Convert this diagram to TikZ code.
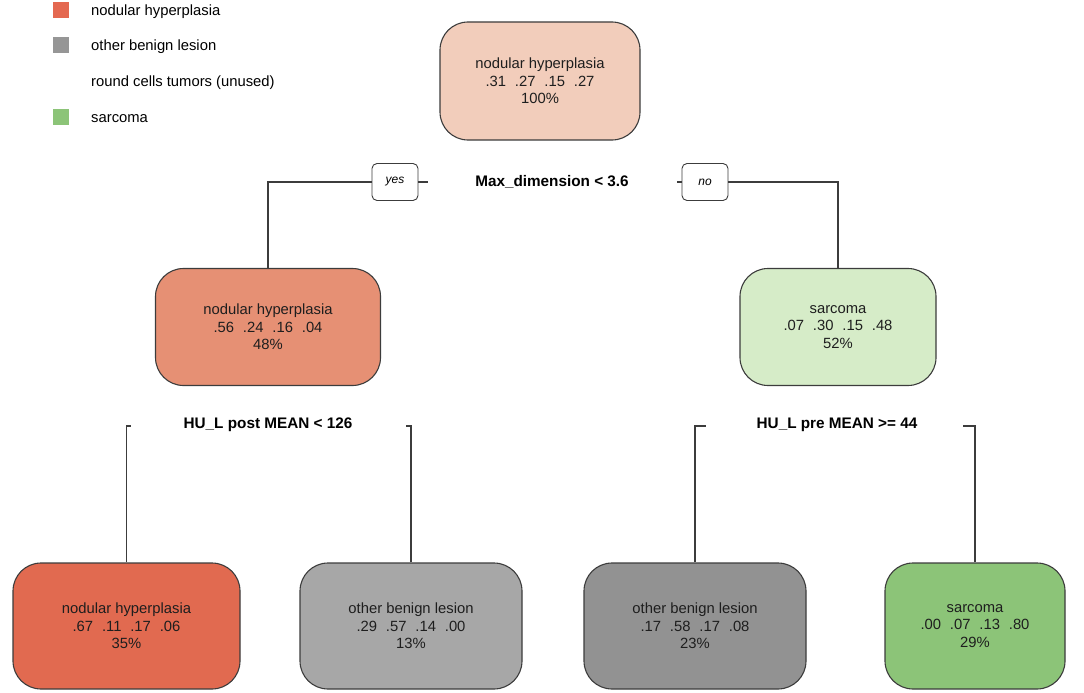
\documentclass[tikz,border=0pt]{standalone}
\usepackage{fontspec}
\setmainfont{Liberation Sans}
\definecolor{cRoot}{RGB}{242,205,187}
\definecolor{cMidL}{RGB}{230,144,116}
\definecolor{cMidR}{RGB}{214,236,200}
\definecolor{cLL}{RGB}{225,106,80}
\definecolor{cLR}{RGB}{167,167,167}
\definecolor{cRL}{RGB}{146,146,146}
\definecolor{cRR}{RGB}{140,196,120}
\definecolor{cEdge}{RGB}{60,60,60}
\definecolor{cText}{RGB}{30,30,30}
\definecolor{cLegR}{RGB}{228,104,80}
\definecolor{cLegG}{RGB}{150,150,150}
\definecolor{cLegS}{RGB}{140,196,120}
\newcommand{\gp}{\hspace{0.6em}}
\begin{document}
\begin{tikzpicture}[x=1pt,y=-1pt,
  treebox/.style={draw=cEdge, line width=1.1pt, rounded corners=28pt, align=center,
     text=cText, font=\fontsize{14.8}{17.5}\selectfont, inner sep=0pt},
  yesno/.style={draw=cEdge, line width=0.9pt, rounded corners=5pt, fill=white,
     font=\fontsize{12}{14}\selectfont\itshape, minimum width=46pt, minimum height=37pt, inner sep=0pt},
  splitlab/.style={font=\fontsize{15.3}{17}\selectfont\bfseries, inner sep=1pt},
  edge/.style={draw=cEdge, line width=1.1pt},
  legsq/.style={minimum width=16pt, minimum height=16pt, inner sep=0pt},
  legtxt/.style={anchor=west, font=\fontsize{14.8}{17}\selectfont, inner sep=0pt}
]
\useasboundingbox (0,0) rectangle (1084,693);

% legend
\node[legsq, fill=cLegR] (sq1) at (61,10) {};
\node[legsq, fill=cLegG] (sq2) at (61,45) {};
\node[legsq, fill=cLegS] (sq4) at (61,117) {};
\node[legtxt] (lt1) at (91,12) {nodular hyperplasia};
\node[legtxt] (lt2) at (91,47) {other benign lesion};
\node[legtxt] (lt3) at (91,83) {round cells tumors (unused)};
\node[legtxt] (lt4) at (91,119) {sarcoma};

% nodes
\node[treebox, fill=cRoot, minimum width=200pt, minimum height=118pt] (root) at (540,81)
  {nodular hyperplasia\\.31\gp.27\gp.15\gp.27\\100\%};
\node[treebox, fill=cMidL, minimum width=225pt, minimum height=117pt] (midL) at (268,327)
  {nodular hyperplasia\\.56\gp.24\gp.16\gp.04\\48\%};
\node[treebox, fill=cMidR, minimum width=196pt, minimum height=117pt] (midR) at (838,327)
  {sarcoma\\.07\gp.30\gp.15\gp.48\\52\%};
\node[treebox, fill=cLL, minimum width=227pt, minimum height=126pt] (LL) at (126.5,626)
  {nodular hyperplasia\\.67\gp.11\gp.17\gp.06\\35\%};
\node[treebox, fill=cLR, minimum width=222pt, minimum height=126pt] (LR) at (411,626)
  {other benign lesion\\.29\gp.57\gp.14\gp.00\\13\%};
\node[treebox, fill=cRL, minimum width=222pt, minimum height=126pt] (RL) at (695,626)
  {other benign lesion\\.17\gp.58\gp.17\gp.08\\23\%};
\node[treebox, fill=cRR, minimum width=180pt, minimum height=126pt] (RR) at (975,626)
  {sarcoma\\.00\gp.07\gp.13\gp.80\\29\%};

% first split
\node[yesno] (yes) at (395,182) {yes};
\node[yesno] (no) at (705,182) {no};
\node[splitlab] (s0) at (552,182) {Max\_dimension < 3.6};
\coordinate (yesend) at (428,182);
\coordinate (noend) at (677,182);
\draw[edge] (yes.west) -| (midL.north);
\draw[edge] (yes.east) -- (yesend);
\draw[edge] (no.east) -| (midR.north);
\draw[edge] (no.west) -- (noend);

% second splits
\node[splitlab] (s1) at (268,425) {HU\_L post MEAN < 126};
\node[splitlab] (s2) at (837,425) {HU\_L pre MEAN >= 44};
\coordinate (t1) at (131,426);
\coordinate (t2) at (406,426);
\coordinate (t3) at (706,426);
\coordinate (t4) at (963,426);
\draw[edge] (LL.north) |- (t1);
\draw[edge] (LR.north) |- (t2);
\draw[edge] (RL.north) |- (t3);
\draw[edge] (RR.north) |- (t4);
\end{tikzpicture}
\end{document}
